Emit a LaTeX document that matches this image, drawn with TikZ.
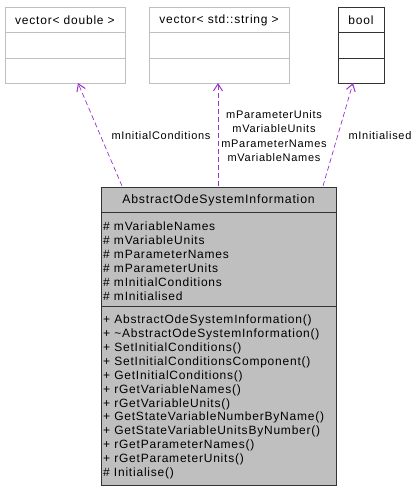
\documentclass[tikz,border=0pt]{standalone}
\usepackage{fontspec}
\setmainfont{Liberation Sans}[LetterSpace=6.5]
\usetikzlibrary{arrows.meta}
\definecolor{edgec}{HTML}{9A32CD}
\definecolor{lightb}{HTML}{BFBFBF}
\definecolor{fillg}{HTML}{BFBFBF}
\tikzset{
  txt/.style={inner sep=0pt, font=\fontsize{12}{14}\selectfont},
  lt/.style={txt, anchor=west},
  edgelbl/.style={inner sep=0pt, align=center, font=\fontsize{11}{14.3}\selectfont},
  dep/.style={draw=edgec, dashed, dash pattern=on 5pt off 3pt, line width=0.7pt,
    -{Straight Barb[length=7pt,width=9pt,line width=1pt]}},
}
\begin{document}
\begin{tikzpicture}[x=1pt,y=-1pt]
\useasboundingbox (0,0) rectangle (419,491);
% vector<double>
\draw[lightb, line width=0.8pt, fill=white] (5,7) rectangle (125,83);
\draw[lightb, line width=0.8pt] (5,32) -- (125,32) (5,58) -- (125,58);
\node[txt] (vd) at (65,20) {vector< double >};
\coordinate (vdb) at (78,83);
% vector<std::string>
\draw[lightb, line width=0.8pt, fill=white] (149,7) rectangle (289,83);
\draw[lightb, line width=0.8pt] (149,32) -- (289,32) (149,58) -- (289,58);
\node[txt] (vs) at (219,20) {vector< std::string >};
\coordinate (vsb) at (218,83);
% bool
\draw[black!80, line width=0.9pt, fill=white] (338,7) rectangle (384,83);
\draw[black!80, line width=0.9pt] (338,32) -- (384,32) (338,58) -- (384,58);
\node[txt] (bl) at (361,20) {bool};
\coordinate (blb) at (353,83);
% main class
\draw[black!80, line width=0.9pt, fill=fillg] (101,187) rectangle (336,485);
\draw[black!80, line width=0.9pt] (101,212) -- (336,212) (101,306) -- (336,306);
\node[txt, font=\fontsize{12.3}{14}\selectfont] (cls) at (218.5,200) {AbstractOdeSystemInformation};
\node[lt] (a1) at (103,226) {\# mVariableNames};
\node[lt] (a2) at (103,240) {\# mVariableUnits};
\node[lt] (a3) at (103,254) {\# mParameterNames};
\node[lt] (a4) at (103,268) {\# mParameterUnits};
\node[lt] (a5) at (103,282) {\# mInitialConditions};
\node[lt] (a6) at (103,296) {\# mInitialised};
\node[lt] (m1) at (103,320) {+ AbstractOdeSystemInformation()};
\node[lt] (m2) at (103,334) {+ \textasciitilde AbstractOdeSystemInformation()};
\node[lt] (m3) at (103,348) {+ SetInitialConditions()};
\node[lt] (m4) at (103,362) {+ SetInitialConditionsComponent()};
\node[lt] (m5) at (103,376) {+ GetInitialConditions()};
\node[lt] (m6) at (103,390) {+ rGetVariableNames()};
\node[lt] (m7) at (103,404) {+ rGetVariableUnits()};
\node[lt] (m8) at (103,417) {+ GetStateVariableNumberByName()};
\node[lt] (m9) at (103,431) {+ GetStateVariableUnitsByNumber()};
\node[lt] (m10) at (103,445) {+ rGetParameterNames()};
\node[lt] (m11) at (103,459) {+ rGetParameterUnits()};
\node[lt] (m12) at (103,473) {\# Initialise()};
\coordinate (s1) at (122,186);
\coordinate (s2) at (218,186);
\coordinate (s3) at (323,186);
% edges
\draw[dep] (s1) -- (vdb);
\draw[dep] (s2) -- (vsb);
\draw[dep] (s3) -- (blb);
\node[edgelbl] (l1) at (161,136) {mInitialConditions};
\node[edgelbl] (l2) at (274,136) {mParameterUnits\\mVariableUnits\\mParameterNames\\mVariableNames};
\node[edgelbl] (l3) at (380,136) {mInitialised};
\end{tikzpicture}
\end{document}
